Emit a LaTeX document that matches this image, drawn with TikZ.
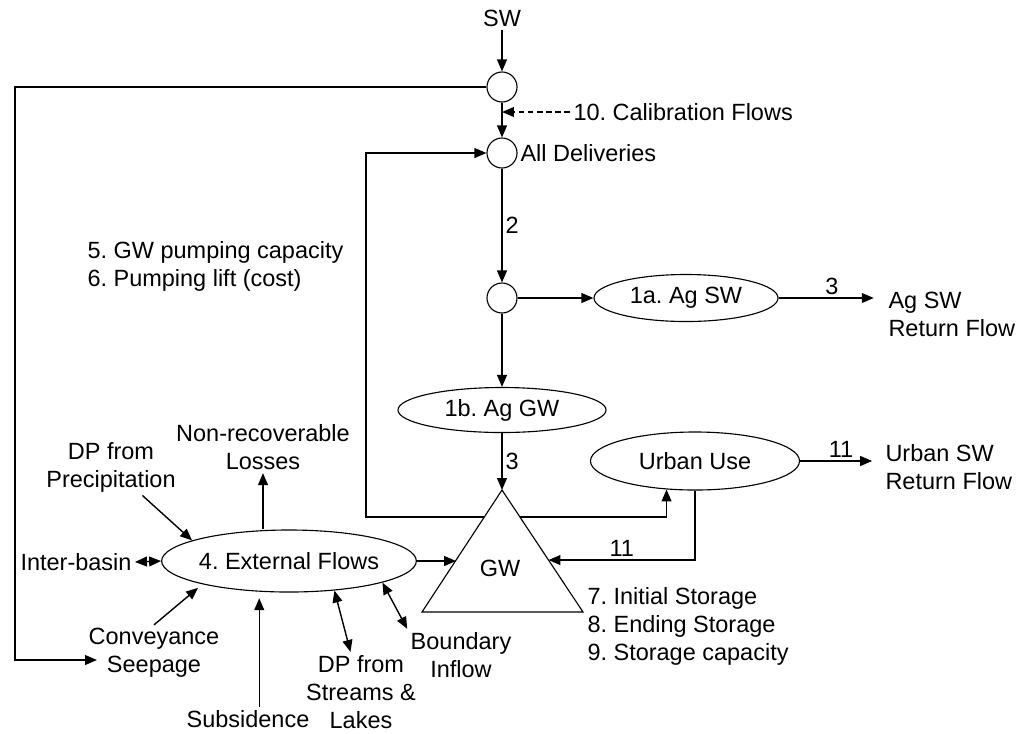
\documentclass[tikz,border=0pt]{standalone}
\usepackage{fontspec}
\setmainfont{Liberation Sans}
\usetikzlibrary{arrows.meta,shapes.geometric,calc}
\frenchspacing
\begin{document}
\begin{tikzpicture}[x=.025cm,y=-.025cm,line width=1pt,
  >={Triangle[length=8.5pt,width=7pt]},
  font=\fontsize{16.7}{19.9}\selectfont,
  jn/.style={circle,draw,line width=.8pt,minimum size=.75cm,inner sep=0pt},
  use/.style={ellipse,draw,line width=.8pt,inner sep=0pt},
  lbl/.style={align=center,inner sep=2pt}]
  \useasboundingbox (0,0) rectangle (1018,733);
  \node[lbl] (sw) at (502,18) {SW};
  \node[jn] (j1) at (502,87) {};
  \node[jn] (j2) at (502,153) {};
  \node[jn] (j3) at (502,298) {};
  \node[lbl,anchor=west] (del) at (517,153) {All Deliveries};
  \node[lbl,anchor=west] (cal) at (570,112) {10. Calibration Flows};
  \draw[->] (sw) -- (j1);
  \draw[->] (j1) -- (j2);
  \draw[->,dash pattern=on 4pt off 2.5pt] (cal) -- (cal -| j1);
  \draw[->] (j2) -- (j3) node[lbl,right,midway] (n2) {2};
  \node[use,minimum width=4.6cm,minimum height=1.175cm] (agsw) at (686,298) {1a. Ag SW};
  \node[lbl,anchor=west,align=left] (agret) at (885,314) {Ag SW\\Return Flow};
  \draw[->] (j3) -- (agsw);
  \draw[->,shorten >=8pt] (agsw) -- (agsw -| agret.west) node[lbl,above,midway] (n3a) {3};
  \node[use,minimum width=5.2cm,minimum height=1.125cm] (aggw) at (502,410) {1b. Ag GW};
  \draw[->] (j3) -- (aggw);
  \coordinate (gwt) at (502,490);
  \coordinate (gwr) at (583,612);
  \coordinate (gwl) at (422,612);
  \draw[line width=.8pt] (gwt) -- (gwr) -- (gwl) -- cycle;
  \node[lbl] (gw) at (500,568) {GW};
  \draw[->] (aggw) -- (gwt) node[lbl,right,midway] (n3b) {3};
  \node[use,minimum width=5.225cm,minimum height=1.45cm] (urb) at (695,461) {Urban Use};
  \node[lbl,anchor=west,align=left] (urbret) at (882,467) {Urban SW\\Return Flow};
  \draw[->,shorten >=7pt] (urb) -- (urb -| urbret.west) node[lbl,above,midway] (n11a) {11};
  \coordinate (gwin) at ($(gwt)!.574!(gwr)$);
  \coordinate (gwo) at ($(gwt)!.221!(gwr)$);
  \coordinate (gwp) at ($(gwt)!.221!(gwl)$);
  \coordinate (gwlin) at ($(gwt)!.574!(gwl)$);
  \draw[->] (urb.south) |- (gwin) node[lbl,above,pos=.75] (n11b) {11};
  \draw[->] (gwo) -| (urb.225);
  \coordinate (pmp) at (366,153);
  \draw[->] (gwp) -| (pmp) -- (j2);
  \node[lbl,anchor=west,align=left] (pcap) at (84,266) {5. GW pumping capacity\\6. Pumping lift (cost)};
  \node[lbl,anchor=west,align=left] (stor) at (584,626) {7. Initial Storage\\8. Ending Storage\\9. Storage capacity};
  \node[use,minimum width=5.95cm,minimum height=1.55cm] (ext) at (289,561) {4. External Flows};
  \draw[->] (ext.east) -- (ext.east -| gwlin);
  \node[lbl] (nrl) at (263,447) {Non-recoverable\\Losses};
  \draw[->] (ext.north -| nrl) -- (nrl);
  \node[lbl] (dpp) at (111,467) {DP from\\Precipitation};
  \draw[->] (dpp) -- (ext.168);
  \node[lbl,anchor=east] (ib) at (135,562) {Inter-basin};
  \draw[<->] (ib.east) -- (ext.west);
  \node[lbl] (conv) at (154,653) {Conveyance\\Seepage};
  \draw[->,shorten >=4pt] (conv.north) -- (ext.195);
  \coordinate (lp) at (15,87);
  \coordinate (seep) at (97,660);
  \draw[->] (j1) -- (lp) |- (seep);
  \node[lbl] (sub) at (248,719) {Subsidence};
  \draw[->,shorten >=4pt] ([xshift=8]sub.north) -- ([xshift=8]sub |- ext.south);
  \node[lbl] (dps) at (361,692) {DP from\\Streams \&\\Lakes};
  \draw[<->] (dps) -- (ext.327);
  \node[lbl] (bnd) at (461,655) {Boundary\\Inflow};
  \draw[<->] (bnd.north west) -- (ext.347);
\end{tikzpicture}
\end{document}
